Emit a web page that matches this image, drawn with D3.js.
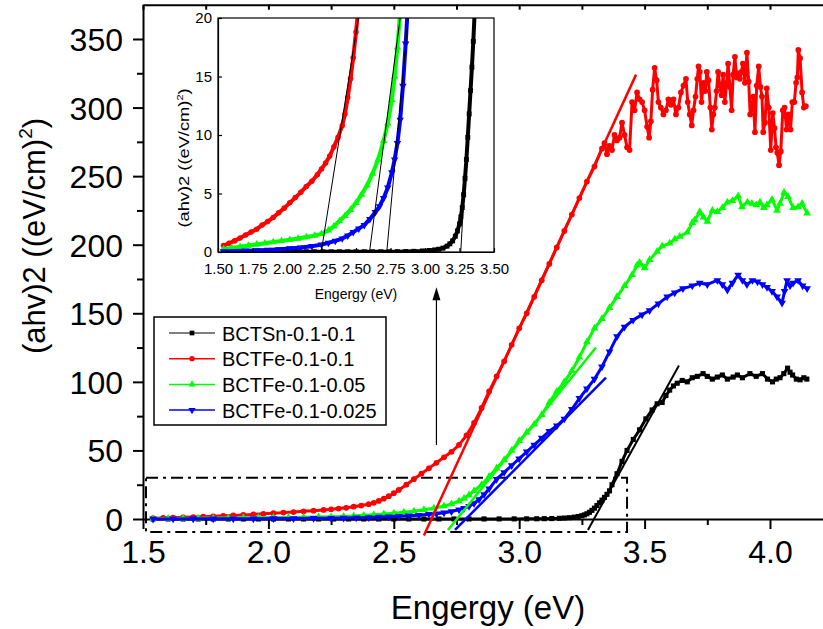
<!DOCTYPE html>
<html>
<head>
<meta charset="utf-8">
<script src="https://cdn.jsdelivr.net/npm/d3@7/dist/d3.min.js"></script>
<style>
  body { margin: 0; background: #fff; }
  text { font-family: "Liberation Sans", Arial, sans-serif; fill: #000; }
</style>
</head>
<body>
<div id="chart"></div>
<script>
// Step 1 - the data ([energy eV, (ahv)^2])
var blackData = [[1.54,0.02],[1.60,0.02],[1.66,0.02],[1.72,0.02],[1.78,0.02],[1.84,0.02],[1.90,0.02],[1.96,0.02],[2.02,0.02],[2.08,0.02],[2.14,0.02],[2.20,0.02],[2.26,0.02],[2.32,0.02],[2.38,0.02],[2.44,0.02],[2.50,0.02],[2.56,0.02],[2.62,0.02],[2.68,0.02],[2.74,0.02],[2.80,0.03],[2.86,0.04],[2.92,0.06],[2.98,0.09],[3.03,0.13],[3.07,0.18],[3.10,0.24],[3.13,0.33],[3.16,0.5],[3.18,0.7],[3.20,0.95],[3.22,1.35],[3.235,1.8],[3.25,2.4],[3.26,3.0],[3.27,3.8],[3.28,4.9],[3.29,6.3],[3.30,7.9],[3.31,9.8],[3.32,11.8],[3.33,13.8],[3.34,15.8],[3.35,18],[3.36,20.5],[3.37,25],[3.39,33],[3.41,42],[3.43,50],[3.455,58],[3.48,65],[3.505,73],[3.53,79.5],[3.55,84],[3.57,85],[3.585,90],[3.60,94],[3.615,97],[3.63,99],[3.65,101],[3.67,100],[3.69,103],[3.71,104],[3.733,106],[3.75,104],[3.77,102],[3.79,103.5],[3.81,105],[3.83,102],[3.853,103.5],[3.87,105],[3.89,103],[3.92,106],[3.945,104],[3.97,106],[3.99,102],[4.01,100],[4.025,102],[4.04,103],[4.055,106],[4.07,110],[4.08,107],[4.09,105],[4.105,102],[4.12,101.5],[4.135,103],[4.147,102]];

var redData = [[1.54,0.55],[1.58,0.75],[1.62,0.95],[1.66,1.2],[1.70,1.45],[1.74,1.7],[1.78,1.95],[1.82,2.3],[1.86,2.6],[1.90,2.95],[1.94,3.35],[1.98,3.75],[2.02,4.2],[2.06,4.65],[2.10,5.1],[2.14,5.6],[2.18,6.05],[2.22,6.6],[2.25,7.1],[2.28,7.6],[2.31,8.2],[2.34,9.0],[2.37,9.8],[2.40,10.8],[2.42,11.8],[2.44,13.2],[2.46,14.8],[2.48,16.6],[2.50,18.8],[2.52,21.2],[2.55,25],[2.58,29],[2.61,33],[2.64,37],[2.67,41],[2.70,45],[2.73,49],[2.76,54],[2.79,61],[2.82,70],[2.85,81],[2.88,93],[2.91,104],[2.94,115],[2.97,127],[3.00,139],[3.03,150],[3.06,162],[3.09,174],[3.12,186],[3.15,198],[3.18,210],[3.21,222],[3.24,234],[3.27,246],[3.30,257],[3.33,270],[3.34,274],[3.35,266],[3.36,272],[3.37,269],[3.38,280],[3.39,276],[3.40,278],[3.41,289],[3.42,280],[3.43,271],[3.44,269],
  [3.45,304],[3.46,298],[3.47,311],[3.48,306],[3.49,304],[3.50,298],[3.51,286],[3.518,278],[3.525,290],[3.532,313],[3.54,329],[3.548,320],[3.555,304],[3.565,300],[3.575,295],[3.585,298],[3.595,306],[3.605,302],[3.615,306],[3.625,295],[3.635,300],[3.645,311],[3.655,316],[3.665,321],[3.672,304],[3.68,295],[3.688,287],[3.695,298],[3.703,308],[3.71,321],[3.715,330],[3.72,326],[3.727,304],[3.735,318],[3.742,312],[3.748,326],[3.755,320],[3.762,300],[3.768,284],[3.774,295],[3.78,300],[3.787,312],[3.793,326],[3.80,316],[3.807,309],[3.813,324],[3.82,304],[3.827,318],[3.833,332],[3.84,315],[3.847,298],[3.853,324],[3.86,337],[3.867,322],[3.874,325],[3.88,321],[3.886,326],[3.892,332],[3.90,318],[3.908,340],[3.915,319],[3.921,295],[3.927,300],[3.933,308],[3.94,282],[3.947,316],[3.955,330],[3.962,315],[3.968,308],[3.973,282],[3.98,289],[3.987,314],[3.995,300],[4.003,269],[4.011,296],[4.018,285],[4.024,271],[4.029,267],[4.036,258],[4.043,268],[4.051,298],[4.058,300],[4.066,284],[4.074,295],[4.082,284],[4.089,304],[4.097,304],[4.104,318],[4.109,322],[4.113,342],[4.12,336],[4.128,311],[4.135,300],[4.143,301]];

var greenData = [[1.54,0.25],[1.60,0.35],[1.66,0.45],[1.72,0.55],[1.78,0.65],[1.84,0.75],[1.90,0.85],[1.96,0.95],[2.02,1.05],[2.08,1.15],[2.14,1.28],[2.20,1.4],[2.25,1.55],[2.30,1.85],[2.34,2.2],[2.38,2.65],[2.42,3.1],[2.46,3.6],[2.50,4.2],[2.54,4.9],[2.58,5.7],[2.62,6.7],[2.66,7.9],[2.70,9.5],[2.73,11.0],[2.76,13.0],[2.78,15.0],[2.80,17.5],[2.82,20.5],[2.85,25],[2.88,31],[2.91,37],[2.94,43],[2.97,50],[3.00,57],[3.03,63],[3.06,69],[3.09,76],[3.12,85],[3.15,93],[3.18,100],[3.21,108],[3.24,118],[3.27,129],[3.30,139],[3.33,146],[3.36,154],[3.39,162],[3.42,170],[3.45,178],[3.47,185],[3.48,187],[3.50,183],[3.52,189],[3.55,195],[3.57,199],[3.60,201],[3.62,204],[3.64,206],[3.67,209],[3.69,216],[3.70,218],[3.72,224],[3.735,220],[3.75,217],[3.77,225],[3.79,224],[3.81,227],[3.83,231],[3.85,232],[3.873,235.5],[3.888,227.5],[3.91,231],[3.928,230],[3.945,229],[3.96,231],[3.975,227],[3.988,229],[4.008,233],[4.028,225],[4.04,230],[4.056,238],[4.072,235],[4.092,227],[4.112,227.5],[4.128,230],[4.148,223]];

var blueData = [[1.54,0.05],[1.62,0.08],[1.70,0.11],[1.78,0.14],[1.86,0.18],[1.94,0.23],[2.02,0.3],[2.10,0.38],[2.18,0.5],[2.25,0.63],[2.30,0.78],[2.35,0.95],[2.40,1.15],[2.44,1.4],[2.48,1.7],[2.52,2.0],[2.56,2.3],[2.60,2.8],[2.64,3.4],[2.67,3.9],[2.70,4.6],[2.73,5.5],[2.76,6.8],[2.78,7.9],[2.80,9.3],[2.82,11.3],[2.84,14.2],[2.86,17.8],[2.88,22],[2.91,29],[2.94,34],[2.97,39],[3.00,44],[3.03,49],[3.06,54],[3.09,59],[3.12,64],[3.15,68],[3.18,73],[3.21,80],[3.24,88],[3.27,95],[3.30,102],[3.33,111],[3.36,122],[3.39,133],[3.42,140],[3.454,145],[3.49,149],[3.52,152],[3.555,157],[3.59,162],[3.62,165],[3.653,168],[3.69,170],[3.72,172],[3.75,171],[3.79,174],[3.81,171],[3.83,167],[3.85,172],[3.873,178],[3.89,174],[3.908,171],[3.93,174],[3.95,173],[3.97,171],[3.988,169],[4.008,166],[4.028,162],[4.048,157.5],[4.058,166],[4.068,174],[4.08,170],[4.092,172],[4.112,174],[4.13,170],[4.148,168]];

// linear fits drawn on the main plot (two end points each)
var blackFit = [[3.274,-8],[3.637,112]];
var redFit = [[2.62,-12],[3.466,324]];
var greenFit = [[2.716,-8],[3.306,125]];
var blueFit = [[2.744,-8],[3.346,103]];

// linear fits drawn in the inset
var insetFits = [
  [[2.248,0],[2.518,20]],
  [[2.598,0],[2.82,20]],
  [[2.723,0],[2.878,20]],
  [[3.259,0],[3.355,20]]
];

var seriesNames = ["BCTSn-0.1-0.1", "BCTFe-0.1-0.1", "BCTFe-0.1-0.05", "BCTFe-0.1-0.025"];
var seriesColors = ["#000000", "#ff0000", "#00ff00", "#0000ff"];

var xTicks = [1.5, 2.0, 2.5, 3.0, 3.5, 4.0];
var xMinor = [1.75, 2.25, 2.75, 3.25, 3.75, 4.25];
var yTicks = [0, 50, 100, 150, 200, 250, 300, 350];
var yMinor = [25, 75, 125, 175, 225, 275, 325];
var insetXTicks = [1.5, 1.75, 2.0, 2.25, 2.5, 2.75, 3.0, 3.25, 3.5];
var insetYTicks = [0, 5, 10, 15, 20];

// zoom box and arrow (data units)
var boxE = [1.512, 3.43];
var boxY = [-9.5, 30];
var arrowE = 2.67;
var arrowY = [54, 169];

// Step 2 - svg and scales
var svgWidth = 823;
var svgHeight = 629;

var svg = d3.select("#chart")
  .append("svg")
  .attr("width", svgWidth)
  .attr("height", svgHeight);

var xScale = d3.scaleLinear().domain([1.5, 4.25]).range([143, 832.7]);
var yScale = d3.scaleLinear().domain([0, 375]).range([519, 4.7]);

var symbols = [
  {type: d3.symbolSquare, rot: 0},
  {type: d3.symbolCircle, rot: 0},
  {type: d3.symbolTriangle, rot: 0},
  {type: d3.symbolTriangle, rot: 180}
];
var allData = [blackData, redData, greenData, blueData];

function drawSeries(g, xs, ys, data, i, lineWidth, symSize) {
  var line = d3.line().x(d => xs(d[0])).y(d => ys(d[1]));
  g.append("path")
    .datum(data)
    .attr("d", line)
    .attr("fill", "none")
    .attr("stroke", seriesColors[i])
    .attr("stroke-width", lineWidth)
    .attr("stroke-linejoin", "round");
  var sym = d3.symbol().type(symbols[i].type).size(symSize);
  g.selectAll(null)
    .data(data)
    .enter()
    .append("path")
    .attr("d", sym)
    .attr("transform", d => `translate(${xs(d[0])},${ys(d[1])}) rotate(${symbols[i].rot})`)
    .attr("fill", seriesColors[i]);
}

// Step 3 - main axes
var xAxisG = svg.append("g")
  .attr("transform", `translate(0, ${yScale(0)})`)
  .call(d3.axisBottom(xScale).tickValues(xTicks).tickFormat(d3.format(".1f")).tickSize(10).tickSizeOuter(0));
xAxisG.selectAll("text").attr("y", 44).attr("dy", 0).style("font-size", "32px");

svg.append("g")
  .attr("transform", `translate(0, ${yScale(0)})`)
  .call(d3.axisBottom(xScale).tickValues(xMinor).tickFormat("").tickSize(6))
  .select(".domain").remove();

var yAxisG = svg.append("g")
  .attr("transform", `translate(${xScale(1.5)}, 0)`)
  .call(d3.axisLeft(yScale).tickValues(yTicks).tickSize(10).tickSizeOuter(0));
yAxisG.selectAll("text").attr("x", -20).attr("dy", "0.36em").style("font-size", "32px");

svg.append("g")
  .attr("transform", `translate(${xScale(1.5)}, 0)`)
  .call(d3.axisLeft(yScale).tickValues(yMinor).tickFormat("").tickSize(6))
  .select(".domain").remove();

// top frame with small ticks
svg.append("g")
  .attr("transform", `translate(0, ${yScale(375)})`)
  .call(d3.axisBottom(xScale).tickValues(xTicks.concat(xMinor)).tickFormat("").tickSize(5).tickSizeOuter(0));

svg.selectAll(".domain, .tick line").attr("stroke", "#000").attr("stroke-width", 2);

// axis titles
svg.append("text")
  .attr("x", 488)
  .attr("y", 619)
  .attr("text-anchor", "middle")
  .style("font-size", "33px")
  .text("Engergy (eV)");

var yTitle = svg.append("text")
  .attr("transform", "translate(45, 236) rotate(-90)")
  .attr("text-anchor", "middle")
  .style("font-size", "31px");
yTitle.append("tspan").text("(ahv)2 ((eV/cm)");
yTitle.append("tspan").attr("dy", -13).style("font-size", "19px").text("2");
yTitle.append("tspan").attr("dy", 13).text(")");

// Step 4 - zoom box, fits and data on main plot
svg.append("rect")
  .attr("x", xScale(boxE[0]))
  .attr("y", yScale(boxY[1]))
  .attr("width", xScale(boxE[1]) - xScale(boxE[0]))
  .attr("height", yScale(boxY[0]) - yScale(boxY[1]))
  .attr("fill", "none")
  .attr("stroke", "#000")
  .attr("stroke-width", 2)
  .attr("stroke-dasharray", "12,5,3,5");

var plotG = svg.append("g");
allData.forEach(function(data, i) {
  drawSeries(plotG, xScale, yScale, data, i, 3, 26);
});

var fitLine = d3.line().x(d => xScale(d[0])).y(d => yScale(d[1]));
[blackFit, redFit, greenFit, blueFit].forEach(function(fit, i) {
  plotG.append("path")
    .attr("d", fitLine(fit))
    .attr("stroke", seriesColors[i])
    .attr("stroke-width", i == 0 ? 2 : 2.5)
    .attr("fill", "none");
});

// arrow pointing at the inset
svg.append("line")
  .attr("x1", xScale(arrowE)).attr("x2", xScale(arrowE))
  .attr("y1", yScale(arrowY[0])).attr("y2", yScale(arrowY[1]) + 10)
  .attr("stroke", "#000").attr("stroke-width", 1.2);
svg.append("path")
  .attr("d", `M${xScale(arrowE)},${yScale(arrowY[1])} l-4,13 l8,0 z`)
  .attr("fill", "#000");

// Step 5 - legend
var legend = svg.append("g");
legend.append("rect")
  .attr("x", 154).attr("y", 317)
  .attr("width", 232).attr("height", 108)
  .attr("fill", "#fff")
  .attr("stroke", "#000")
  .attr("stroke-width", 1.5);
seriesNames.forEach(function(name, i) {
  var yy = 333 + i * 25.7;
  legend.append("line")
    .attr("x1", 169).attr("x2", 215).attr("y1", yy).attr("y2", yy)
    .attr("stroke", i == 0 ? "#555" : seriesColors[i]).attr("stroke-width", 1.5);
  legend.append("path")
    .attr("d", d3.symbol().type(symbols[i].type).size(22))
    .attr("transform", `translate(192,${yy}) rotate(${symbols[i].rot})`)
    .attr("fill", seriesColors[i]);
  legend.append("text")
    .attr("x", 222).attr("y", yy + 7.5)
    .style("font-size", "20px")
    .text(name);
});

// Step 6 - inset
var ix = d3.scaleLinear().domain([1.5, 3.5]).range([218, 494]);
var iy = d3.scaleLinear().domain([0, 20]).range([252, 18]);

var inset = svg.append("g");
inset.append("rect")
  .attr("x", 218).attr("y", 18).attr("width", 276).attr("height", 234)
  .attr("fill", "#fff");

svg.append("clipPath").attr("id", "insetClip")
  .append("rect").attr("x", 218).attr("y", 18).attr("width", 276).attr("height", 234);

var insetData = inset.append("g").attr("clip-path", "url(#insetClip)");
allData.forEach(function(data, i) {
  drawSeries(insetData, ix, iy, data, i, 4, 24);
});
var insetFitLine = d3.line().x(d => ix(d[0])).y(d => iy(d[1]));
insetFits.forEach(function(fit) {
  insetData.append("path")
    .attr("d", insetFitLine(fit))
    .attr("stroke", "#000").attr("stroke-width", 1).attr("fill", "none");
});

var ixAxis = inset.append("g")
  .attr("transform", "translate(0,252)")
  .call(d3.axisBottom(ix).tickValues(insetXTicks).tickFormat(d3.format(".2f")).tickSize(-4).tickSizeOuter(0));
ixAxis.selectAll("text").attr("y", 22).attr("dy", 0).style("font-size", "15px");

var iyAxis = inset.append("g")
  .attr("transform", "translate(218,0)")
  .call(d3.axisLeft(iy).tickValues(insetYTicks).tickSize(-4).tickSizeOuter(0));
iyAxis.selectAll("text").attr("x", -6).attr("dy", "0.33em").style("font-size", "15px");

inset.selectAll(".domain, .tick line").attr("stroke", "#000").attr("stroke-width", 1.2);

inset.append("rect")
  .attr("x", 218).attr("y", 18).attr("width", 276).attr("height", 234)
  .attr("fill", "none").attr("stroke", "#000").attr("stroke-width", 1.2);

inset.append("text")
  .attr("x", 356).attr("y", 299)
  .attr("text-anchor", "middle")
  .style("font-size", "14px")
  .text("Engergy (eV)");

var iyTitle = inset.append("text")
  .attr("transform", "translate(189, 158) rotate(-90) scale(1.22, 1)")
  .attr("text-anchor", "middle")
  .style("font-size", "15px");
iyTitle.append("tspan").text("(ahv)2 ((eV/cm)");
iyTitle.append("tspan").attr("dy", -6).style("font-size", "9px").text("2");
iyTitle.append("tspan").attr("dy", 6).text(")");
</script>
</body>
</html>
